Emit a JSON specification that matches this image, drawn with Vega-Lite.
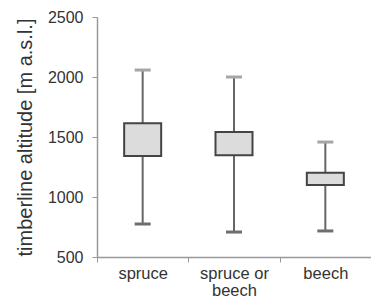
{
  "$schema": "https://vega.github.io/schema/vega-lite/v6.json",
  "autosize": "none",
  "width": 274,
  "height": 240,
  "padding": {"left": 97, "top": 17, "right": 0, "bottom": 42},
  "background": "white",
  "config": {
    "view": {"stroke": null},
    "font": "Liberation Sans",
    "axis": {"labelFont": "Liberation Sans", "titleFont": "Liberation Sans"}
  },
  "data": {
    "values": [
      {"species": "spruce", "min": 775, "q1": 1342, "q3": 1614, "max": 2058},
      {"species": "spruce or beech", "min": 708, "q1": 1347, "q3": 1542, "max": 2000},
      {"species": "beech", "min": 717, "q1": 1100, "q3": 1203, "max": 1458}
    ]
  },
  "encoding": {
    "x": {
      "field": "species",
      "type": "nominal",
      "sort": null,
      "scale": {"paddingInner": 0, "paddingOuter": 0},
      "axis": {
        "title": null,
        "labelAngle": 0,
        "tickBand": "extent",
        "labelExpr": "datum.label == 'spruce or beech' ? ['spruce or', 'beech'] : datum.label",
        "labelFontSize": 16.5,
        "labelColor": "#333333",
        "labelPadding": 3,
        "labelLineHeight": 17,
        "domainColor": "#999999",
        "tickColor": "#999999",
        "tickSize": 5,
        "domainWidth": 1.5
      }
    }
  },
  "layer": [
    {
      "mark": {"type": "rule", "color": "#666666", "strokeWidth": 2},
      "encoding": {
        "y": {
          "field": "min",
          "type": "quantitative",
          "scale": {"domain": [500, 2500], "nice": false},
          "axis": {
            "title": "timberline altitude [m a.s.l.]",
            "values": [500, 1000, 1500, 2000, 2500],
            "format": "d",
            "grid": false,
            "tickSize": 5,
            "labelPadding": 9,
            "labelFontSize": 16,
            "labelColor": "#333333",
            "titleFontSize": 20,
            "titleFontWeight": "normal",
            "titleColor": "#333333",
            "titlePadding": 12,
            "domainColor": "#999999",
            "tickColor": "#999999",
            "domainWidth": 1.5
          }
        },
        "y2": {"field": "max"}
      }
    },
    {
      "mark": {"type": "bar", "size": 37, "fill": "#dcdcdc", "stroke": "#444444", "strokeWidth": 2},
      "encoding": {
        "y": {"field": "q1", "type": "quantitative"},
        "y2": {"field": "q3"}
      }
    },
    {
      "mark": {"type": "tick", "color": "#a6a6a6", "thickness": 3, "size": 16, "opacity": 1},
      "encoding": {"y": {"field": "max", "type": "quantitative"}}
    },
    {
      "mark": {"type": "tick", "color": "#6e6e6e", "thickness": 3, "size": 16, "opacity": 1},
      "encoding": {"y": {"field": "min", "type": "quantitative"}}
    }
  ]
}
